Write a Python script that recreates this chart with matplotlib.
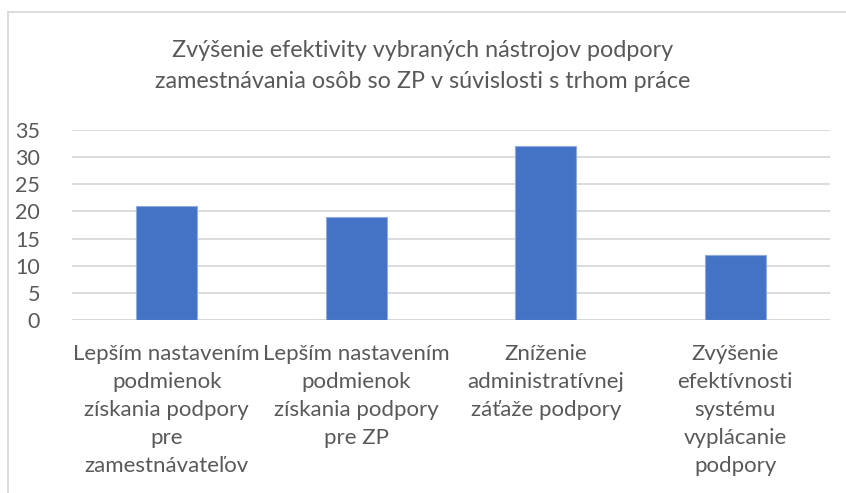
import matplotlib
matplotlib.use("Agg")
import matplotlib.pyplot as plt
from matplotlib.lines import Line2D

categories = [
    "Lepším nastavením\npodmienok\nzískania podpory\npre\nzamestnávateľov",
    "Lepším nastavením\npodmienok\nzískania podpory\npre ZP",
    "Zníženie\nadministratívnej\nzáťaže podpory",
    "Zvýšenie\nefektívnosti\nsystému\nvyplácanie\npodpory",
]
values = [21, 19, 32, 12]
yticks = [0, 5, 10, 15, 20, 25, 30, 35]
title = ("Zvýšenie efektivity vybraných nástrojov podpory\n"
         "zamestnávania osôb so ZP v súvislosti s trhom práce")

plt.rcParams['font.family'] = ['Lato', 'DejaVu Sans']
text_col = '#595959'
bar_col = '#4472C4'

fig = plt.figure(figsize=(8.46, 4.93), dpi=100)
ax = fig.add_axes([72/846, 1 - 320/493, (830-72)/846, 190/493])

x = range(len(values))
ax.bar(x, values, width=0.32, color=bar_col, edgecolor='#8FAADC', linewidth=0.8, zorder=3)
ax.set_xlim(-0.5, len(values) - 0.5)
ax.set_ylim(0, 35)
ax.set_yticks(yticks)
ax.set_yticklabels([str(t) for t in yticks], fontsize=15.5, color=text_col)
ax.set_xticks(list(x))
ax.set_xticklabels(categories, fontsize=16, color=text_col, linespacing=1.5)
ax.tick_params(axis='both', length=0)
ax.tick_params(axis='x', pad=17)
ax.tick_params(axis='y', pad=23)
ax.grid(axis='y', color='#D9D9D9', linewidth=1.3, zorder=0)
for s in ax.spines.values():
    s.set_visible(False)
ax.axhline(0, color='#D9D9D9', linewidth=1.3, zorder=2)

fig.text(423/846, 1 - 66/493, title, ha='center', va='center', fontsize=16.8,
         color=text_col, linespacing=1.55)

# chart frame (top and left edges visible)
fig.add_artist(Line2D([8/846, 1], [1 - 12/493, 1 - 12/493], color='#D9D9D9', linewidth=1.3))
fig.add_artist(Line2D([8/846, 8/846], [0, 1 - 12/493], color='#D9D9D9', linewidth=1.3))

fig.savefig("out.png", dpi=100)
